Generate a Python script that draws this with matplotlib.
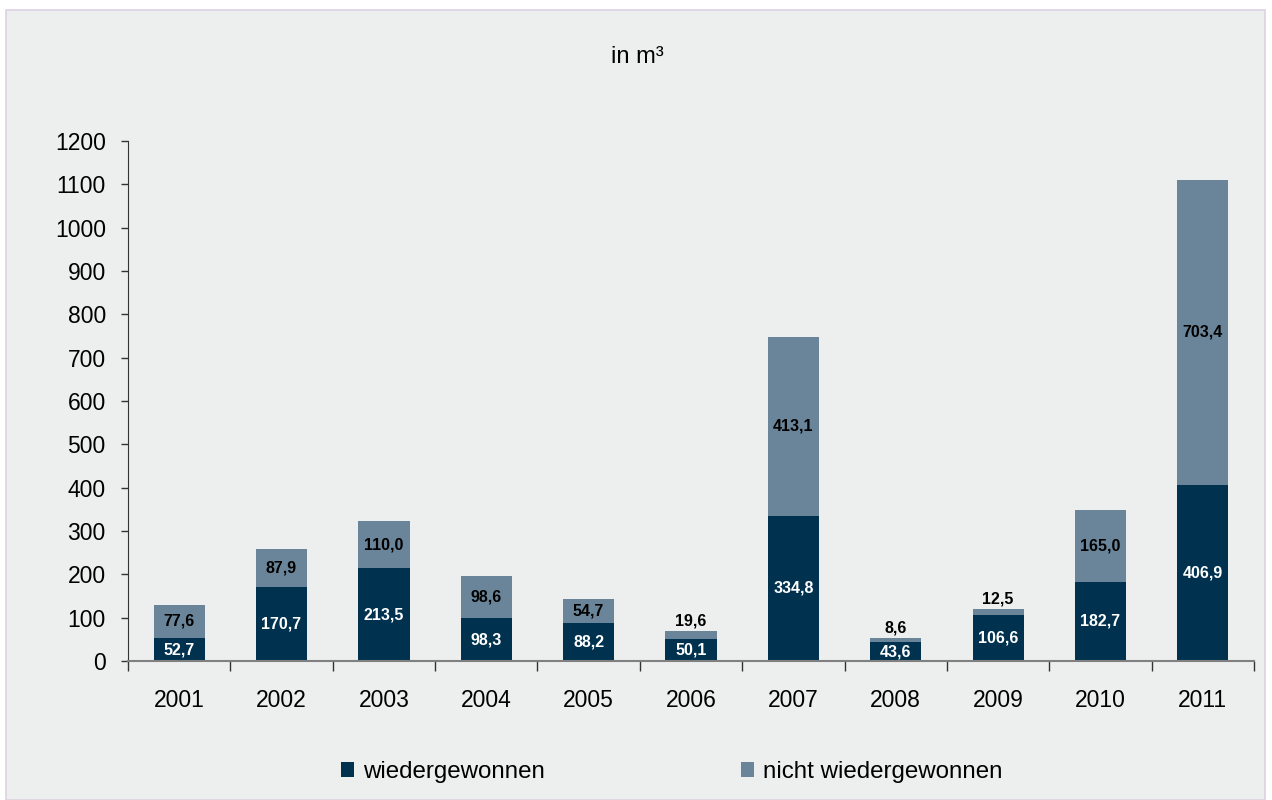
import matplotlib
matplotlib.use("Agg")
import matplotlib.pyplot as plt
from matplotlib.patches import Rectangle, Patch

years = ["2001", "2002", "2003", "2004", "2005", "2006", "2007", "2008", "2009", "2010", "2011"]
recovered = [52.7, 170.7, 213.5, 98.3, 88.2, 50.1, 334.8, 43.6, 106.6, 182.7, 406.9]
not_recovered = [77.6, 87.9, 110.0, 98.6, 54.7, 19.6, 413.1, 8.6, 12.5, 165.0, 703.4]
yticks = [0, 100, 200, 300, 400, 500, 600, 700, 800, 900, 1000, 1100, 1200]
series_names = ["wiedergewonnen", "nicht wiedergewonnen"]

dark = "#00324f"
light = "#6a8599"
bg = "#edefee"

plt.rcParams['font.family'] = ['Liberation Sans', 'DejaVu Sans']

fig = plt.figure(figsize=(12.72, 8.0), dpi=100)
fig.patch.set_facecolor("white")
panel = Rectangle((6 / 1272, 0), (1265 - 6) / 1272, 1 - 10 / 800, transform=fig.transFigure,
                  facecolor=bg, edgecolor="#ddd2e3", linewidth=1.2, zorder=-10)
fig.patches.append(panel)

ax = fig.add_axes([128 / 1272, 1 - 661 / 800, (1254 - 128) / 1272, 520 / 800])
ax.set_facecolor("none")
ax.set_zorder(5)

x = list(range(len(years)))
w = 0.5
ax.bar(x, recovered, width=w, color=dark, zorder=2)
ax.bar(x, not_recovered, width=w, bottom=recovered, color=light, zorder=2)

for i in x:
    r = recovered[i]
    n = not_recovered[i]
    ax.text(i, r / 2, f"{r:.1f}".replace(".", ","), ha="center", va="center",
            color="white", fontsize=11.5, fontweight="bold", zorder=3)
    if n < 30:
        ax.annotate(f"{n:.1f}".replace(".", ","), xy=(i, r + n), xytext=(0, 10),
                    textcoords="offset pixels", ha="center", va="center",
                    color="black", fontsize=11.5, fontweight="bold", zorder=3)
    else:
        ax.text(i, r + n / 2, f"{n:.1f}".replace(".", ","), ha="center", va="center",
                color="black", fontsize=11.5, fontweight="bold", zorder=3)

ax.set_xlim(-0.5, len(years) - 0.5)
ax.set_ylim(0, 1200)
ax.set_yticks(yticks)
ax.set_yticklabels([str(v) for v in yticks])
ax.tick_params(axis="y", direction="out", length=5, width=1, pad=11, labelsize=16.5, color="#333333")

ax.set_xticks([i - 0.5 for i in range(len(years) + 1)])
ax.set_xticklabels([])
ax.set_xticks(x, minor=True)
ax.set_xticklabels(years, minor=True)
ax.tick_params(axis="x", which="major", direction="out", length=7, width=1, color="#333333")
ax.tick_params(axis="x", which="minor", length=0, pad=20, labelsize=16.5)

for s in ["top", "right"]:
    ax.spines[s].set_visible(False)
ax.spines["left"].set_color("#333333")
ax.spines["bottom"].set_color("#808080")
ax.spines["bottom"].set_linewidth(1.5)

fig.text(637 / 1272, 1 - 57 / 800, "in m³", ha="center", va="center", fontsize=17)

for name, col, xpos in [(series_names[0], dark, 341 / 1272), (series_names[1], light, 741 / 1272)]:
    fig.legend(handles=[Patch(facecolor=col, edgecolor="none", label=name)],
               loc="center left", bbox_to_anchor=(xpos, 1 - 772 / 800), frameon=False,
               fontsize=17.4, handlelength=0.55, handleheight=0.55, handletextpad=0.35,
               borderpad=0, borderaxespad=0)

fig.savefig("out.png", dpi=100, facecolor=fig.get_facecolor())
